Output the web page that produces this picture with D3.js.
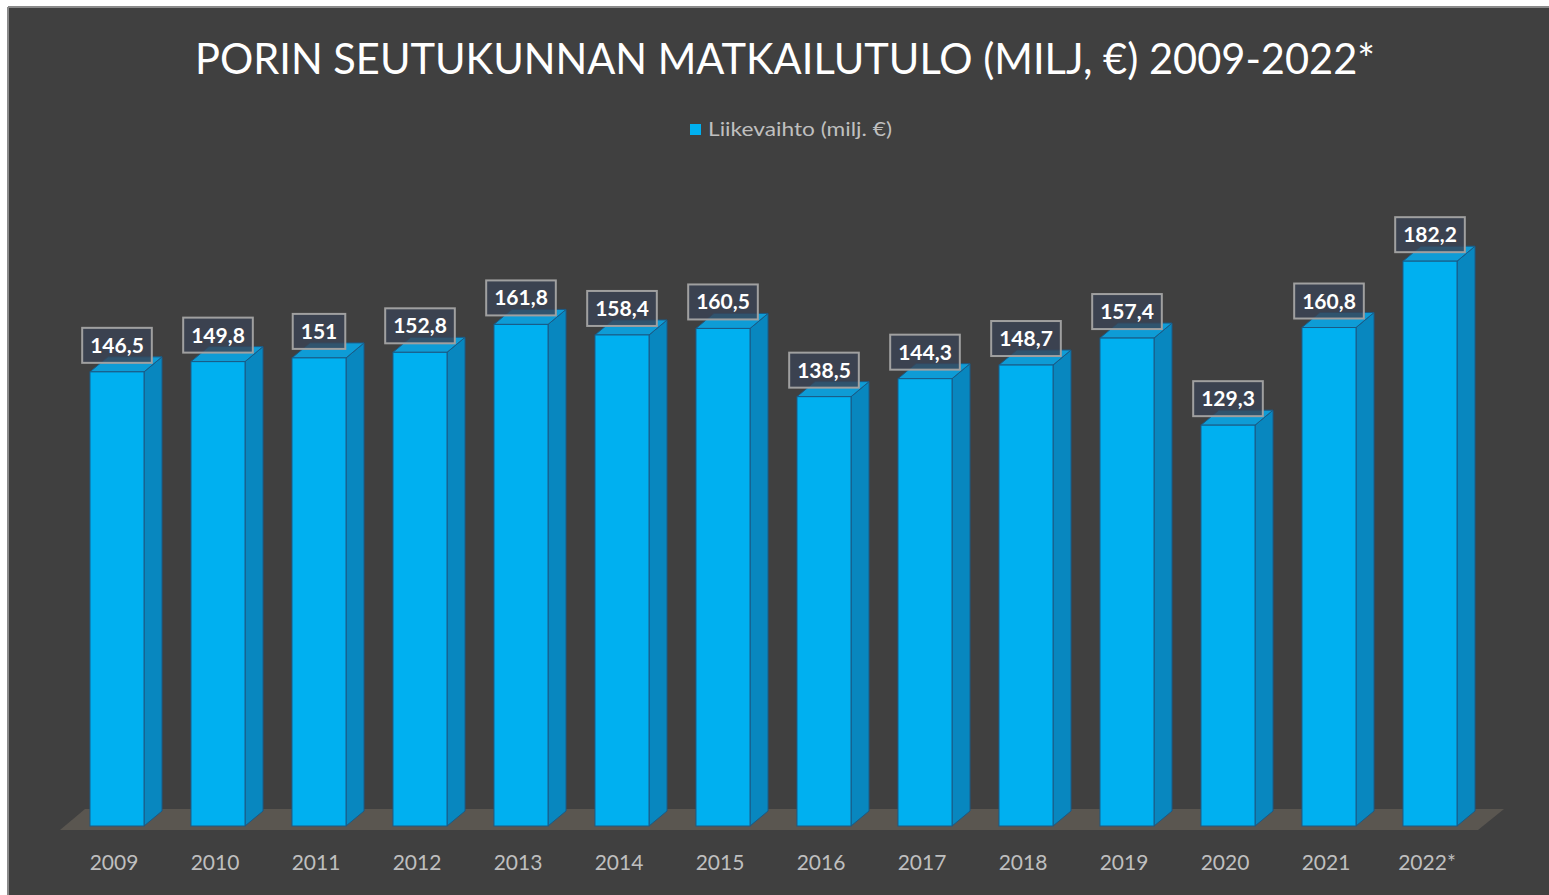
<!DOCTYPE html>
<html>
<head>
<meta charset="utf-8">
<script src="https://cdn.jsdelivr.net/npm/d3@7"></script>
<style>
  html, body { margin: 0; padding: 0; background: #ffffff; }
  svg { display: block; }
</style>
</head>
<body>
<svg id="chart" width="1549" height="895"></svg>
<script>
const categories = ["2009","2010","2011","2012","2013","2014","2015","2016","2017","2018","2019","2020","2021","2022*"];
const values = [146.5,149.8,151,152.8,161.8,158.4,160.5,138.5,144.3,148.7,157.4,129.3,160.8,182.2];
const valueLabels = ["146,5","149,8","151","152,8","161,8","158,4","160,5","138,5","144,3","148,7","157,4","129,3","160,8","182,2"];
const seriesName = "Liikevaihto (milj. €)";
const titleText = "PORIN SEUTUKUNNAN MATKAILUTULO (MILJ, €) 2009-2022*";

const W = 1549, H = 895;
const svg = d3.select("#chart");
const FONT = "Lato, 'Open Sans', sans-serif";

// background frame
svg.append("rect").attr("x", 8).attr("y", 7).attr("width", W - 8).attr("height", H - 7)
  .attr("fill", "#404040");
svg.append("line").attr("x1", 8).attr("x2", 8).attr("y1", 7).attr("y2", H)
  .attr("stroke", "#8a8a8a").attr("stroke-width", 2);
svg.append("line").attr("x1", 8).attr("x2", W).attr("y1", 7).attr("y2", 7)
  .attr("stroke", "#8a8a8a").attr("stroke-width", 2);

// scales
const x = d3.scaleBand().domain(categories).range([66.5, 1480.5])
  .paddingInner(0.465).paddingOuter(0.2325);
const y = d3.scaleLinear().domain([0, 200]).range([826, 206]);

const dx = 18, dy = -15;

// floor
const fy0 = y(0) + 4;
svg.append("path")
  .attr("d", `M60,${fy0} L1478,${fy0} L1504,${fy0 - 21} L85,${fy0 - 21} Z`)
  .attr("fill", "#5a5650");

// bars
const data = categories.map((c, i) => ({ c, v: values[i], label: valueLabels[i] }));
const g = svg.append("g");
const bars = g.selectAll("g.bar").data(data).join("g").attr("class", "bar");

bars.append("path") // side
  .attr("d", d => {
    const x1 = x(d.c) + x.bandwidth(), yt = y(d.v), yb = y(0);
    return `M${x1},${yt} L${x1 + dx},${yt + dy} L${x1 + dx},${yb + dy} L${x1},${yb} Z`;
  })
  .attr("fill", "#0887bf").attr("stroke", "#1b5a85").attr("stroke-width", 1);

bars.append("path") // top
  .attr("d", d => {
    const x0 = x(d.c), x1 = x0 + x.bandwidth(), yt = y(d.v);
    return `M${x0},${yt} L${x0 + dx},${yt + dy} L${x1 + dx},${yt + dy} L${x1},${yt} Z`;
  })
  .attr("fill", "#0e9cd6").attr("stroke", "#1b5a85").attr("stroke-width", 1);

bars.append("rect") // front
  .attr("x", d => x(d.c)).attr("y", d => y(d.v))
  .attr("width", x.bandwidth()).attr("height", d => y(0) - y(d.v))
  .attr("fill", "#00b0f0").attr("stroke", "#1b5a85").attr("stroke-width", 1);

// value labels
const lab = svg.append("g").selectAll("g").data(data).join("g");
lab.each(function(d) {
  const gg = d3.select(this);
  const cx = x(d.c) + x.bandwidth() / 2;
  const bottom = y(d.v) - 9;
  const t = gg.append("text")
    .attr("x", cx).attr("y", bottom - 10)
    .attr("text-anchor", "middle")
    .attr("font-family", FONT).attr("font-weight", "bold")
    .attr("font-size", 21).attr("fill", "#ffffff")
    .text(d.label);
  const bb = t.node().getBBox();
  const w = bb.width + 16, h = 35;
  gg.insert("rect", "text")
    .attr("x", cx - w / 2).attr("y", bottom - h)
    .attr("width", w).attr("height", h)
    .attr("fill", "rgba(58,66,84,0.8)")
    .attr("stroke", "#a0a0a0").attr("stroke-width", 2);
});

// x axis labels
const xAxis = d3.axisBottom(x).tickSize(0).tickPadding(0);
const ax = svg.append("g").attr("transform", `translate(-3,${y(0) + 44})`).call(xAxis);
ax.select(".domain").remove();
ax.selectAll("text")
  .attr("font-family", FONT).attr("font-size", 21).attr("fill", "#bfbfbf")
  .attr("dy", 0);

// title
svg.append("text")
  .attr("x", 785).attr("y", 74)
  .attr("text-anchor", "middle")
  .attr("font-family", FONT).attr("font-size", 42).attr("fill", "#ffffff")
  .attr("textLength", 1180).attr("lengthAdjust", "spacingAndGlyphs")
  .text(titleText);

// legend
svg.append("rect").attr("x", 690).attr("y", 124).attr("width", 11).attr("height", 11)
  .attr("fill", "#00b0f0");
svg.append("text")
  .attr("x", 708).attr("y", 136)
  .attr("font-family", FONT).attr("font-size", 20).attr("fill", "#bfbfbf")
  .attr("textLength", 184).attr("lengthAdjust", "spacingAndGlyphs")
  .text(seriesName);
</script>
</body>
</html>
